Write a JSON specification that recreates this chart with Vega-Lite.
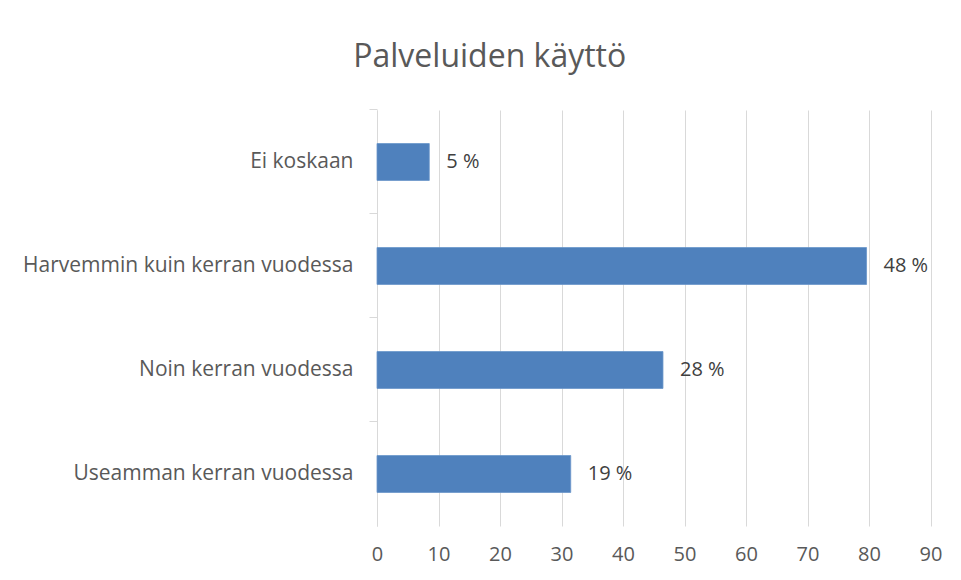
{
  "$schema": "https://vega.github.io/schema/vega-lite/v6.json",
  "width": 553.5,
  "height": 416,
  "autosize": "none",
  "padding": {"left": 377, "top": 110, "right": 30, "bottom": 54},
  "background": "white",
  "title": {
    "text": "Palveluiden käyttö",
    "anchor": "middle",
    "frame": "group",
    "dx": -164,
    "offset": 10,
    "baseline": "alphabetic",
    "fontSize": 32,
    "font": "Open Sans",
    "fontWeight": "normal",
    "color": "#595959"
  },
  "config": {
    "view": {"stroke": null},
    "font": "Open Sans"
  },
  "data": {
    "values": [
      {"kategoria": "Ei koskaan", "arvo": 8.5, "osuus": "5 %"},
      {"kategoria": "Harvemmin kuin kerran vuodessa", "arvo": 79.6, "osuus": "48 %"},
      {"kategoria": "Noin kerran vuodessa", "arvo": 46.5, "osuus": "28 %"},
      {"kategoria": "Useamman kerran vuodessa", "arvo": 31.5, "osuus": "19 %"}
    ]
  },
  "encoding": {
    "y": {
      "field": "kategoria",
      "type": "nominal",
      "sort": null,
      "scale": {"paddingInner": 0.645, "paddingOuter": 0.3225},
      "axis": {
        "title": null,
        "domain": true,
        "domainColor": "#d9d9d9",
        "domainWidth": 1,
        "ticks": true,
        "tickColor": "#d9d9d9",
        "tickSize": 8,
        "bandPosition": -0.9085,
        "labelPadding": 16,
        "labelFontSize": 21,
        "labelFont": "Open Sans",
        "labelColor": "#595959",
        "labelLimit": 400,
        "grid": false
      }
    },
    "x": {
      "field": "arvo",
      "type": "quantitative",
      "scale": {"domain": [0, 90], "nice": false},
      "axis": {
        "title": null,
        "domain": false,
        "ticks": false,
        "grid": true,
        "gridColor": "#d9d9d9",
        "values": [0, 10, 20, 30, 40, 50, 60, 70, 80, 90],
        "labelPadding": 18,
        "labelFontSize": 20,
        "labelFont": "Open Sans",
        "labelColor": "#595959",
        "labelFlush": false
      }
    }
  },
  "layer": [
    {
      "mark": {"type": "bar", "color": "#4f81bd", "stroke": "#6a95c9", "strokeWidth": 0.8}
    },
    {
      "mark": {
        "type": "text",
        "align": "left",
        "baseline": "middle",
        "dx": 17,
        "fontSize": 20,
        "font": "Open Sans",
        "color": "#404040"
      },
      "encoding": {"text": {"field": "osuus"}}
    }
  ]
}
